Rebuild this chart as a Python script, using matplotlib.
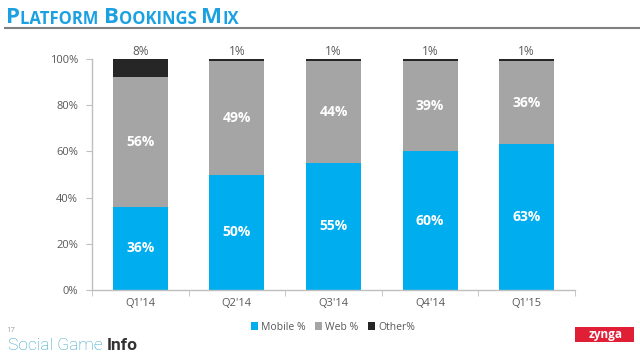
import matplotlib
matplotlib.use("Agg")
import matplotlib.pyplot as plt
from matplotlib.patches import Rectangle
import numpy as np

categories = ["Q1'14", "Q2'14", "Q3'14", "Q4'14", "Q1'15"]
mobile = [36, 50, 55, 60, 63]
web = [56, 49, 44, 39, 36]
other = [8, 1, 1, 1, 1]
yticks = [0, 20, 40, 60, 80, 100]

BLUE = "#00AEEF"
GREY = "#A5A5A5"
DARK = "#262626"
AXC = "#BFBFBF"
TXT = "#595959"
TBLUE = "#1BA1E2"

plt.rcParams['font.family'] = ['Open Sans', 'DejaVu Sans']

fig = plt.figure(figsize=(6.4, 3.56), dpi=100)
W, H = 640, 356
ax = fig.add_axes([92 / W, 1 - 290 / H, (575 - 92) / W, (290 - 59) / H])

x = np.arange(len(categories))
bw = 0.57
m = np.array(mobile)
w = np.array(web)
o = np.array(other)
ax.bar(x, m, bw, color=BLUE, label="Mobile %")
ax.bar(x, w, bw, bottom=m, color=GREY, label="Web %")
ax.bar(x, o, bw, bottom=m + w, color=DARK, label="Other%")

for i in range(len(x)):
    ax.text(x[i], m[i] / 2, f"{m[i]}%", ha="center", va="center",
            color="white", fontsize=10, fontweight="bold")
    ax.text(x[i], m[i] + w[i] / 2, f"{w[i]}%", ha="center", va="center",
            color="white", fontsize=10, fontweight="bold")
    ax.text(x[i], 100.3, f"{o[i]}%", ha="center", va="bottom",
            color=TXT, fontsize=8.5)

ax.set_xlim(-0.5, len(x) - 0.5)
ax.set_ylim(0, 100)
ax.set_yticks(yticks)
ax.set_yticklabels([f"{v}%" for v in yticks], color=TXT, fontsize=8)
ax.set_xticks(x)
ax.set_xticklabels(categories, color=TXT, fontsize=8)
ax.tick_params(axis="x", length=0, pad=6)
ax.set_xticks(np.arange(len(x) + 1) - 0.5, minor=True)
ax.tick_params(axis="x", which="minor", length=4, color=AXC, direction="out")
ax.tick_params(axis="y", length=4, color=AXC, pad=6)
for s in ["top", "right"]:
    ax.spines[s].set_visible(False)
for s in ["left", "bottom"]:
    ax.spines[s].set_color(AXC)
    ax.spines[s].set_linewidth(1)

leg = fig.legend(loc="center", bbox_to_anchor=(333 / W, 1 - 327 / H), ncol=3,
                 frameon=False, fontsize=7.5, handlelength=0.7, handleheight=0.7,
                 handletextpad=0.3, columnspacing=0.9)
for t in leg.get_texts():
    t.set_color(TXT)

# Title in small caps, chained pieces
pieces = [("P", 16), ("LATFORM ", 12), ("B", 16), ("OOKINGS ", 12),
          ("M", 16), ("IX", 12)]
cur = fig.text(6 / W, 1 - 23 / H, pieces[0][0], fontsize=pieces[0][1],
               fontweight="bold", color=TBLUE, va="baseline", ha="left")
for txt, fs in pieces[1:]:
    cur = ax.annotate(txt, xy=(1, 0), xycoords=cur, xytext=(0.3, 0),
                      textcoords="offset points", fontsize=fs,
                      fontweight="bold", color=TBLUE, va="bottom", ha="left",
                      annotation_clip=False)
fig.add_artist(plt.Line2D([5 / W, 1], [1 - 28 / H, 1 - 28 / H], color="#808080",
                          lw=1.5, transform=fig.transFigure))

# Footer
fig.text(6 / W, 1 - 331 / H, "17", fontsize=5.5, color="#A0A0A0", va="center")
sg = fig.text(8 / W, 1 - 350 / H, "Social Game", fontsize=12.5, color="#2FA3C4",
              va="baseline", ha="left", fontfamily="Roboto", fontweight="light")
ax.annotate("Info", xy=(1, 0), xycoords=sg, xytext=(3, 0),
            textcoords="offset points", fontsize=12.5, color="#333333",
            va="bottom", ha="left", fontfamily="Roboto", fontweight="bold",
            annotation_clip=False)

fig.add_artist(Rectangle((575 / W, 1 - 342 / H), 59 / W, 15 / H,
                         facecolor="#E01E36", edgecolor="none",
                         transform=fig.transFigure))
fig.text(606 / W, 1 - 334.5 / H, "zynga", fontsize=8.5, color="white",
         fontweight="bold", va="center", ha="center")

fig.savefig("out.png", dpi=100)
